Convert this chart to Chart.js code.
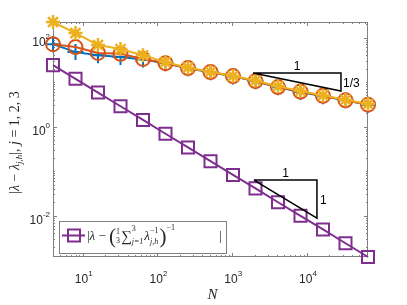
<!DOCTYPE html>
<html>
<head>
<meta charset="utf-8">
<script src="https://cdn.jsdelivr.net/npm/chart.js@4.4.1/dist/chart.umd.min.js"></script>
<style>
  body { margin: 0; background: #fff; }
  canvas { display: block; }
</style>
</head>
<body>
<canvas id="errChart" width="407" height="305"></canvas>
<script>
// degrees of freedom
const N = [4, 8, 16, 32, 64, 128, 256, 512, 1024, 2048, 4096, 8192, 16384, 32768, 65536];

// |lambda - lambda_{j,h}|, j = 1, 2, 3
const errJ1 = [71, 47, 40, 36.5, 32, 26.5, 20.5, 16.5, 13.4, 10.4, 7.6, 6.0, 4.8, 3.9, 3.1];
const errJ2 = [71, 61, 45, 43, 33, 26.5, 20.6, 16.8, 13.6, 10.5, 7.7, 6.1, 4.9, 3.9, 3.1];
const errJ3 = [223, 126, 68, 55, 40, 28, 21, 17, 13.6, 10.8, 8.0, 6.3, 5.0, 4.0, 3.2];

// |lambda - (1/3 sum lambda_{j,h}^-1)^-1|
const errMean = [24, 11.8, 5.8, 2.86, 1.41, 0.69, 0.34, 0.167, 0.082, 0.041, 0.020, 0.0099, 0.0049, 0.0024, 0.00118];

// labelled ticks
const xTicks = [10, 100, 1000, 10000];
const yTicks = [0.01, 1, 100];

// slope triangles (N, error)
const triUpper = [[1900, 15.9], [28500, 15.9], [28500, 6.28], [1900, 15.9]];
const triLower = [[1954, 0.0628], [13600, 0.0628], [13600, 0.00879], [1954, 0.0628]];

const toPoints = (xs, ys) => xs.map((v, i) => ({ x: v, y: ys[i] }));
const triPoints = tri => tri.map(p => ({ x: p[0], y: p[1] }));

const blue = '#0072BD';
const red = '#D95319';
const yellow = '#EDB120';
const purple = '#7E2F8E';
const axisGray = '#808080';
const textColor = '#262626';
const sans = '"Liberation Sans", Arial, sans-serif';
const serif = '"Liberation Serif", "Times New Roman", serif';

// draw a run of text pieces, returns the width used
function drawRun(ctx, pieces, x, y) {
    let cx = x;
    pieces.forEach(p => {
        if (p.stack) {
            // stacked super/subscripts on the same x
            let w = 0;
            p.stack.forEach(s => {
                ctx.font = s.f;
                ctx.fillText(s.t, cx, y + s.dy);
                w = Math.max(w, ctx.measureText(s.t).width);
            });
            cx += w + (p.gap || 0);
        } else {
            ctx.font = p.f;
            ctx.fillText(p.t, cx, y + (p.dy || 0));
            cx += ctx.measureText(p.t).width + (p.gap || 0);
        }
    });
    return cx - x;
}

function runWidth(ctx, pieces) {
    let w = 0;
    pieces.forEach(p => {
        if (p.stack) {
            let m = 0;
            p.stack.forEach(s => { ctx.font = s.f; m = Math.max(m, ctx.measureText(s.t).width); });
            w += m + (p.gap || 0);
        } else {
            ctx.font = p.f;
            w += ctx.measureText(p.t).width + (p.gap || 0);
        }
    });
    return w;
}

const matlabAxes = {
    id: 'matlabAxes',
    beforeDatasetsDraw(chart) {
        const { ctx, chartArea: a, scales: { x, y } } = chart;
        ctx.save();
        ctx.strokeStyle = axisGray;
        ctx.lineWidth = 1;
        ctx.strokeRect(a.left + 0.5, a.top + 0.5, a.right - a.left - 1, a.bottom - a.top - 1);

        ctx.beginPath();
        // x ticks, top and bottom, inward
        for (let d = 1; d <= 1e5; d *= 10) {
            for (let m = 1; m <= 9; m++) {
                const v = m * d;
                if (v < x.min || v > x.max) continue;
                const px = Math.round(x.getPixelForValue(v)) + 0.5;
                const len = m === 1 ? 4 : 2;
                ctx.moveTo(px, a.bottom);
                ctx.lineTo(px, a.bottom - len);
                ctx.moveTo(px, a.top);
                ctx.lineTo(px, a.top + len);
            }
        }
        // y ticks, left and right, inward
        for (let d = 1e-4; d <= 1e3; d *= 10) {
            for (let m = 1; m <= 9; m++) {
                const v = m * d;
                if (v < y.min || v > y.max) continue;
                const py = Math.round(y.getPixelForValue(v)) + 0.5;
                const major = yTicks.some(t => Math.abs(t / v - 1) < 1e-6);
                const len = major ? 4 : 2;
                ctx.moveTo(a.left, py);
                ctx.lineTo(a.left + len, py);
                ctx.moveTo(a.right, py);
                ctx.lineTo(a.right - len, py);
            }
        }
        ctx.stroke();
        ctx.restore();
    },
    afterDraw(chart) {
        const { ctx, chartArea: a, scales: { x, y } } = chart;
        ctx.save();
        ctx.fillStyle = textColor;
        ctx.textBaseline = 'alphabetic';
        ctx.textAlign = 'left';

        const baseFont = '12px ' + sans;
        const expFont = '8px ' + sans;

        // x tick labels
        xTicks.forEach(v => {
            const exp = String(Math.round(Math.log10(v)));
            const pieces = [{ t: '10', f: baseFont }, { t: exp, f: expFont, dy: -7 }];
            const w = runWidth(ctx, pieces);
            const px = x.getPixelForValue(v);
            drawRun(ctx, pieces, px - w / 2 + 1, a.bottom + 26);
        });

        // y tick labels
        yTicks.forEach(v => {
            const exp = String(Math.round(Math.log10(v)));
            const pieces = [{ t: '10', f: baseFont }, { t: exp, f: expFont, dy: -7 }];
            const w = runWidth(ctx, pieces);
            const py = y.getPixelForValue(v);
            drawRun(ctx, pieces, a.left - 3 - w, py + 8);
        });

        // x label
        ctx.font = 'italic 15px ' + serif;
        ctx.textAlign = 'center';
        ctx.fillText('N', (a.left + a.right) / 2 + 2, 299);
        ctx.textAlign = 'left';

        // y label, rotated
        const yl = [
            { t: '|', f: '14px ' + serif },
            { t: '\u03bb', f: 'italic 14px ' + serif },
            { t: ' \u2212 ', f: '14px ' + serif },
            { t: '\u03bb', f: 'italic 14px ' + serif },
            { t: 'j,h', f: 'italic 9px ' + serif, dy: 3 },
            { t: '|, ', f: '14px ' + serif },
            { t: 'j', f: 'italic 14px ' + serif },
            { t: ' = 1, 2, 3', f: '14px ' + serif }
        ];
        const ylw = runWidth(ctx, yl);
        ctx.save();
        ctx.translate(19, (a.top + a.bottom) / 2 + 3);
        ctx.rotate(-Math.PI / 2);
        drawRun(ctx, yl, -ylw / 2, 0);
        ctx.restore();

        // slope triangle labels
        ctx.fillStyle = '#000';
        ctx.font = '12px ' + sans;
        ctx.textAlign = 'center';
        const uxm = (x.getPixelForValue(triUpper[0][0]) + x.getPixelForValue(triUpper[1][0])) / 2;
        ctx.fillText('1', uxm, y.getPixelForValue(triUpper[0][1]) - 3);
        ctx.textAlign = 'left';
        ctx.fillText('1/3', x.getPixelForValue(triUpper[1][0]) + 2,
            (y.getPixelForValue(triUpper[1][1]) + y.getPixelForValue(triUpper[2][1])) / 2 + 5);
        ctx.textAlign = 'center';
        const lxm = (x.getPixelForValue(triLower[0][0]) + x.getPixelForValue(triLower[1][0])) / 2;
        ctx.fillText('1', lxm, y.getPixelForValue(triLower[0][1]) - 3);
        ctx.textAlign = 'left';
        ctx.fillText('1', x.getPixelForValue(triLower[1][0]) + 3,
            (y.getPixelForValue(triLower[1][1]) + y.getPixelForValue(triLower[2][1])) / 2 + 5);

        // legend
        const bx = a.left + 6, by = a.bottom - 36, bw = 167, bh = 32;
        ctx.fillStyle = '#fff';
        ctx.fillRect(bx, by, bw, bh);
        ctx.strokeStyle = axisGray;
        ctx.lineWidth = 1;
        ctx.strokeRect(bx + 0.5, by + 0.5, bw, bh);
        const my = by + 14.5;
        ctx.strokeStyle = purple;
        ctx.lineWidth = 2;
        ctx.beginPath();
        ctx.moveTo(bx + 3, my);
        ctx.lineTo(bx + 26, my);
        ctx.stroke();
        ctx.strokeRect(bx + 9, my - 6, 12, 12);

        ctx.fillStyle = textColor;
        const f = '13px ' + serif, fi = 'italic 13px ' + serif;
        const s8 = '8px ' + serif, s8i = 'italic 8px ' + serif;
        const base = by + 19;
        drawRun(ctx, [
            { t: '|', f: f },
            { t: '\u03bb', f: fi },
            { t: ' \u2212 ', f: f },
            { t: '(', f: '21px ' + serif, dy: 3 },
            { stack: [{ t: '1', f: s8, dy: -6 }, { t: '3', f: s8, dy: 3 }], gap: 1 },
            { t: '\u2211', f: '15px ' + serif, dy: 1 },
            { stack: [{ t: '3', f: s8, dy: -9 }, { t: 'j=1', f: s8i, dy: 4 }], gap: 1 },
            { t: '\u03bb', f: fi },
            { stack: [{ t: '\u22121', f: s8, dy: -7 }, { t: 'j,h', f: s8i, dy: 4 }], gap: 1 },
            { t: ')', f: '21px ' + serif, dy: 3 },
            { t: '\u22121', f: s8, dy: -10 }
        ], bx + 28, base);
        ctx.font = f;
        ctx.fillText('|', bx + 160, base);
        ctx.restore();
    }
};

const ctx = document.getElementById('errChart').getContext('2d');

new Chart(ctx, {
    type: 'line',
    data: {
        datasets: [
            {
                label: 'j = 1',
                data: toPoints(N, errJ1),
                borderColor: blue,
                borderWidth: 2,
                pointStyle: 'cross',
                pointRadius: 8,
                pointBorderWidth: 2,
                pointBorderColor: blue,
                backgroundColor: 'transparent',
                order: 4
            },
            {
                label: 'j = 2',
                data: toPoints(N, errJ2),
                borderColor: red,
                borderWidth: 2,
                pointStyle: 'circle',
                pointRadius: 7,
                pointBorderWidth: 2,
                pointBorderColor: red,
                pointBackgroundColor: 'transparent',
                backgroundColor: 'transparent',
                order: 3
            },
            {
                label: 'j = 3',
                data: toPoints(N, errJ3),
                borderColor: yellow,
                borderWidth: 2,
                pointStyle: 'star',
                pointRadius: 7,
                pointBorderWidth: 2.5,
                pointBorderColor: yellow,
                backgroundColor: 'transparent',
                order: 2
            },
            {
                label: 'mean',
                data: toPoints(N, errMean),
                borderColor: purple,
                borderWidth: 2,
                pointStyle: 'rect',
                pointRadius: 8.5,
                pointBorderWidth: 2,
                pointBorderColor: purple,
                pointBackgroundColor: 'transparent',
                backgroundColor: 'transparent',
                order: 1
            },
            {
                label: 'slope 1/3',
                data: triPoints(triUpper),
                borderColor: '#000',
                borderWidth: 1.5,
                pointRadius: 0,
                order: 0
            },
            {
                label: 'slope 1',
                data: triPoints(triLower),
                borderColor: '#000',
                borderWidth: 1.5,
                pointRadius: 0,
                order: 0
            }
        ]
    },
    options: {
        responsive: false,
        animation: false,
        devicePixelRatio: 1,
        clip: false,
        layout: { padding: { top: 22, right: 39, left: 0, bottom: 0 } },
        plugins: {
            legend: { display: false },
            tooltip: { enabled: false }
        },
        elements: { line: { tension: 0 } },
        scales: {
            x: {
                type: 'logarithmic',
                min: 4,
                max: 65536,
                grid: { display: false },
                border: { display: false },
                ticks: { display: false },
                afterFit: s => { s.height = 48; }
            },
            y: {
                type: 'logarithmic',
                min: 0.00118,
                max: 223,
                grid: { display: false },
                border: { display: false },
                ticks: { display: false },
                afterFit: s => { s.width = 53; }
            }
        }
    },
    plugins: [matlabAxes]
});
</script>
</body>
</html>
